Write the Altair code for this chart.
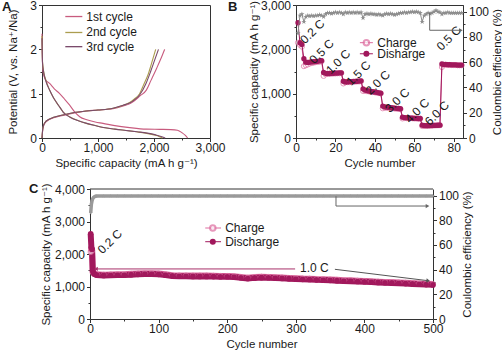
import altair as alt
import pandas as pd

FONT = "Liberation Sans, Arial, DejaVu Sans"
INK = "#1a1a1a"
LINE = "#333333"
C1, C2, C3 = "#c85b7e", "#ab9d4f", "#7a4a6b"
DIS, CHG, GRAY = "#a1185c", "#dd6c9f", "#8d8d8d"
STAR = ("M0,-1L0.2245,-0.309L0.951,-0.309L0.363,0.118L0.588,0.809L0,0.382"
        "L-0.588,0.809L-0.363,0.118L-0.951,-0.309L-0.2245,-0.309Z")

# ---------------- Panel A : voltage profiles ----------------
a1_dis_cap = [0, 5, 18, 60, 136, 220, 315, 400, 494, 583, 673, 800, 950, 1089, 1300, 1565, 1863, 2100, 2300, 2420, 2500, 2560, 2600]
a1_dis_v = [2.35, 1.9, 1.49, 1.32, 1.23, 1.11, 1.0, 0.88, 0.74, 0.59, 0.48, 0.41, 0.36, 0.33, 0.28, 0.235, 0.2, 0.195, 0.19, 0.175, 0.12, 0.06, 0.0]
a2_dis_cap = [0, 10, 30, 70, 136, 200, 255, 320, 375, 494, 650, 791, 950, 1089, 1300, 1500, 1684, 1850, 2000, 2100, 2150]
a2_dis_v = [2.3, 1.7, 1.5, 1.3, 1.08, 0.92, 0.81, 0.69, 0.59, 0.48, 0.39, 0.33, 0.28, 0.235, 0.2, 0.17, 0.14, 0.11, 0.07, 0.03, 0.0]
a3_dis_cap = [0, 10, 30, 70, 140, 205, 260, 325, 380, 500, 650, 800, 950, 1100, 1300, 1500, 1700, 1880, 2030, 2140, 2200]
a3_dis_v = [2.25, 1.68, 1.48, 1.28, 1.07, 0.91, 0.8, 0.68, 0.58, 0.47, 0.39, 0.33, 0.28, 0.235, 0.2, 0.17, 0.14, 0.11, 0.07, 0.03, 0.0]
a1_chg_cap = [0, 15, 47, 136, 375, 600, 791, 1000, 1268, 1450, 1565, 1650, 1750, 1863, 1946, 2050, 2120, 2190]
a1_chg_v = [0, 0.2, 0.33, 0.42, 0.51, 0.57, 0.61, 0.63, 0.66, 0.72, 0.77, 0.84, 0.95, 1.08, 1.3, 1.58, 1.78, 2.0]
a2_chg_cap = [0, 15, 47, 136, 375, 600, 791, 1000, 1268, 1450, 1565, 1650, 1743, 1815, 1900, 1960, 2030]
a2_chg_v = [0, 0.22, 0.34, 0.43, 0.52, 0.58, 0.61, 0.63, 0.67, 0.74, 0.8, 0.88, 1.0, 1.2, 1.45, 1.7, 2.0]
a3_chg_cap = [0, 15, 47, 136, 375, 600, 791, 1000, 1268, 1450, 1565, 1650, 1743, 1857, 1940, 2010, 2080]
a3_chg_v = [0, 0.22, 0.34, 0.43, 0.52, 0.58, 0.61, 0.63, 0.67, 0.74, 0.79, 0.86, 0.97, 1.23, 1.5, 1.75, 2.0]
a_series = ["1st cycle", "2nd cycle", "3rd cycle"]
a_leg_v = [2.74, 2.38, 2.06]

# ---------------- Panel B : rate capability ----------------
b_cycle = list(range(1, 85))
b_dis = [2600, 2150, 2110, 1790, 1710, 1705, 1710, 1715, 1720, 1725,
         1730, 1740, 1745, 1480, 1460, 1455, 1455, 1460, 1460, 1465,
         1465, 1470, 1470, 1280, 1265, 1265, 1270, 1270, 1275, 1275,
         1280, 1285, 1290, 1110, 1080, 1070, 1060, 1050, 1045, 1035,
         1030, 1020, 1010, 720, 700, 695, 690, 685, 680, 675,
         670, 665, 660, 470, 460, 455, 455, 450, 450, 445,
         445, 440, 440, 290, 280, 278, 278, 280, 282, 284,
         286, 288, 290, 1670, 1660, 1660, 1655, 1655, 1650, 1650,
         1650, 1645, 1645, 1645]
b_chg = [2150, 2100, 2060, 1620, 1640, 1660, 1680, 1690, 1700, 1710,
         1715, 1720, 1730, 1400, 1440, 1445, 1450, 1450, 1455, 1455,
         1460, 1460, 1465, 1230, 1255, 1260, 1260, 1265, 1265, 1270,
         1275, 1275, 1280, 1060, 1065, 1055, 1050, 1040, 1035, 1030,
         1020, 1015, 1005, 670, 685, 680, 680, 675, 670, 665,
         660, 655, 650, 440, 450, 448, 448, 445, 445, 440,
         440, 435, 435, 270, 275, 275, 276, 278, 280, 282,
         284, 286, 288, 1600, 1650, 1650, 1648, 1648, 1645, 1645,
         1645, 1640, 1640, 1640]
b_ce = [83, 97, 98, 92, 96, 97, 96.5, 97, 96.5, 97,
        97, 97.5, 97, 96, 98, 99, 99, 98.5, 99, 99.5,
        99, 99.5, 99, 98, 99.5, 99, 99.5, 99, 99.5, 99,
        99.5, 99, 99.5, 95, 98, 98.5, 98, 98.5, 98, 98,
        97.5, 98, 97.5, 97, 98, 98.5, 98, 98.5, 98, 97.5,
        98, 98.5, 99, 99, 99.5, 99, 99.5, 99.5, 100, 99.5,
        100, 99.5, 99, 92, 97, 98, 99, 98.5, 99, 100,
        101, 100, 99.5, 98, 99, 99, 99.5, 99, 99, 99,
        99, 99, 99, 99]
b_rate_text = ["0.2 C", "0.5 C", "1.0 C", "1.5 C", "2.0 C", "3.0 C", "4.0 C", "6.0 C", "0.5 C"]
b_rate_cycle = [8.3, 13.0, 21.4, 31.7, 41.5, 51.4, 61.5, 71.5, 77.5]
b_rate_cap = [2400, 1950, 1720, 1460, 1250, 850, 615, 560, 2250]
b_leg_names = ["Charge", "Disharge"]
b_leg_cap = [2150, 1900]

# ---------------- Panel C : long cycling ----------------
c_cycle = [1, 2, 3, 4, 5, 6, 8, 10,
           20, 30, 40, 50, 60, 70, 80, 90, 100, 110,
           120, 130, 140, 150, 160, 170, 180, 190, 200, 210,
           220, 230, 240, 250, 260, 270, 280, 290, 300, 310,
           320, 330, 340, 350, 360, 370, 380, 390, 400, 410,
           420, 430, 440, 450, 460, 470, 480, 490, 500]
c_dis = [2620, 2200, 2140, 1480, 1420, 1390, 1370, 1355,
         1340, 1345, 1350, 1355, 1365, 1375, 1385, 1385, 1375, 1350,
         1325, 1315, 1315, 1310, 1310, 1310, 1305, 1300, 1300, 1290,
         1270, 1245, 1265, 1275, 1270, 1260, 1250, 1240, 1230, 1220,
         1215, 1205, 1200, 1190, 1180, 1170, 1165, 1155, 1145, 1135,
         1125, 1115, 1110, 1100, 1090, 1080, 1070, 1060, 1050]
c_chg = [2060, 2150, 2100, 1440, 1420, 1400, 1385, 1375,
         1365, 1370, 1375, 1380, 1390, 1400, 1410, 1410, 1400, 1375,
         1350, 1340, 1340, 1335, 1335, 1335, 1330, 1325, 1325, 1315,
         1295, 1270, 1290, 1300, 1295, 1285, 1275, 1265, 1255, 1245,
         1240, 1230, 1225, 1215, 1205, 1195, 1190, 1180, 1170, 1160,
         1150, 1140, 1135, 1125, 1115, 1105, 1095, 1085, 1075]
c_ce = [86, 93, 96, 97.5, 98.5, 99, 99.5, 99.7,
        99.7, 99.8, 99.7, 99.8, 99.7, 99.8, 99.8, 99.7, 99.8, 99.7,
        99.8, 99.8, 99.7, 99.8, 99.7, 99.8, 99.8, 99.7, 99.8, 99.7,
        99.8, 99.8, 99.7, 99.8, 99.7, 99.8, 99.8, 99.7, 99.8, 99.7,
        99.8, 99.8, 99.7, 99.8, 99.7, 99.8, 99.8, 99.7, 99.8, 99.7,
        99.8, 99.8, 99.7, 99.8, 99.7, 99.8, 99.8, 99.7, 99.8]
c_leg_names = ["Charge", "Discharge"]
c_leg_cap = [2800, 2378]

# layout (pixels): C is drawn wider than its grid cell
CW_CELL = 168
C_X0, C_X1 = 48, 391


def mk_axis(values, major, fmt, **kw):
    return alt.Axis(values=values, tickCount=100,
                    labelExpr=f"({major}) ? format(datum.value, '{fmt}') : ''",
                    tickSize={"condition": {"test": major, "value": 3.5}, "value": 2},
                    labelOverlap=False, labelFlush=False, grid=False, **kw)


def letter(t, px, py):
    return alt.Chart(pd.DataFrame({"t": [t]})).mark_text(
        font=FONT, fontSize=13, fontWeight="bold", align="left", baseline="middle", color=INK
    ).encode(text="t:N", x=alt.value(px), y=alt.value(py))


# ======== A ========
rows = []
for ser, kind, caps, vs in [
    ("1st cycle", "d", a1_dis_cap, a1_dis_v), ("2nd cycle", "d", a2_dis_cap, a2_dis_v),
    ("3rd cycle", "d", a3_dis_cap, a3_dis_v), ("1st cycle", "c", a1_chg_cap, a1_chg_v),
    ("2nd cycle", "c", a2_chg_cap, a2_chg_v), ("3rd cycle", "c", a3_chg_cap, a3_chg_v)]:
    for i, (c, v) in enumerate(zip(caps, vs)):
        rows.append({"series": ser, "curve": ser + kind, "cap": c, "v": v, "i": i})
a_df = pd.DataFrame(rows)

axA_x = mk_axis([0, 500, 1000, 1500, 2000, 2500, 3000], "datum.value % 1000 == 0", ",", titlePadding=4, labelPadding=1)
axA_y = mk_axis([0, 0.5, 1, 1.5, 2, 2.5, 3], "datum.value % 1 == 0", "d", titlePadding=11)
TA_X = "Specific capacity (mA h g\u207b\u00b9)"
TA_Y = "Potential (V, vs. Na\u207a/Na)"


def xA(f):
    return alt.X(f"{f}:Q", scale=alt.Scale(domain=[0, 3000], nice=False), axis=axA_x, title=TA_X)


def yA(f):
    return alt.Y(f"{f}:Q", scale=alt.Scale(domain=[0, 3], nice=False), axis=axA_y, title=TA_Y)


colA = alt.Color("series:N", scale=alt.Scale(domain=a_series, range=[C1, C2, C3]), legend=None)
a_lines = alt.Chart(a_df).mark_line(strokeWidth=1.1, interpolate="monotone").encode(
    x=xA("cap"), y=yA("v"), color=colA, detail="curve:N", order="i:Q")
a_leg = pd.DataFrame({"series": a_series, "x0": [416, 416, 416], "x1": [720, 720, 720],
                      "xt": [790, 790, 790], "v": a_leg_v})
a_leg_rule = alt.Chart(a_leg).mark_rule(strokeWidth=1.3).encode(
    x=xA("x0"), x2="x1:Q", y=yA("v"), color=colA)
a_leg_text = alt.Chart(a_leg).mark_text(font=FONT, fontSize=12, align="left", baseline="middle", color=INK).encode(
    x=xA("xt"), y=yA("v"), text="series:N")
A = alt.layer(a_lines, a_leg_rule, a_leg_text, letter("A", -40, 2)).properties(width=168, height=133)

# ======== B ========
b_df = pd.DataFrame({"cycle": b_cycle, "dis": b_dis, "chg": b_chg, "ce": b_ce})
axB_x = mk_axis(list(range(0, 90, 10)), "datum.value % 20 == 0", "d", titlePadding=4, labelPadding=1)
axB_y = mk_axis(list(range(0, 3500, 500)), "datum.value % 1000 == 0", ",", titlePadding=1)
axB_r = mk_axis(list(range(0, 110, 10)), "datum.value % 20 == 0", "d", orient="right",
                titleAngle=270, titleBaseline="top", titlePadding=3)
TB_Y = "Specific capacity (mA h g\u207b\u00b9)"
TB_R = "Coulombic efficiency (%)"


def xB(f):
    return alt.X(f"{f}:Q", scale=alt.Scale(domain=[0, 84.7], nice=False), axis=axB_x, title="Cycle number")


def yB(f):
    return alt.Y(f"{f}:Q", scale=alt.Scale(domain=[0, 3000], nice=False), axis=axB_y, title=TB_Y)


def yBr(f):
    return alt.Y(f"{f}:Q", scale=alt.Scale(domain=[0, 105.3], nice=False), axis=axB_r, title=TB_R)


baseB = alt.Chart(b_df)
b_chg_line = baseB.mark_line(color=CHG, strokeWidth=1).encode(x=xB("cycle"), y=yB("chg"))
b_chg_pts = baseB.mark_point(shape="circle", size=26, filled=True, fill="white", stroke=CHG, strokeWidth=1).encode(
    x=xB("cycle"), y=yB("chg"))
b_dis_line = baseB.mark_line(color=DIS, strokeWidth=1).encode(x=xB("cycle"), y=yB("dis"))
b_dis_pts = baseB.mark_circle(size=28, color=DIS, opacity=1).encode(x=xB("cycle"), y=yB("dis"))
b_rates = alt.Chart(pd.DataFrame({"t": b_rate_text, "cycle": b_rate_cycle, "cap": b_rate_cap})).mark_text(
    font=FONT, fontSize=12, angle=315, align="center", baseline="middle", color=INK).encode(
    x=xB("cycle"), y=yB("cap"), text="t:N")
b_leg = pd.DataFrame({"name": b_leg_names, "cap": b_leg_cap, "x0": [32.4, 32.4], "x1": [39.0, 39.0],
                      "xm": [35.7, 35.7], "xt": [41.2, 41.2]})
b_leg_r1 = alt.Chart(b_leg.iloc[[0]]).mark_rule(color=CHG, strokeWidth=1).encode(x=xB("x0"), x2="x1:Q", y=yB("cap"))
b_leg_r2 = alt.Chart(b_leg.iloc[[1]]).mark_rule(color=DIS, strokeWidth=1).encode(x=xB("x0"), x2="x1:Q", y=yB("cap"))
b_leg_p1 = alt.Chart(b_leg.iloc[[0]]).mark_point(shape="circle", size=30, filled=True, fill="white", stroke=CHG).encode(
    x=xB("xm"), y=yB("cap"))
b_leg_p2 = alt.Chart(b_leg.iloc[[1]]).mark_circle(size=36, color=DIS, opacity=1).encode(x=xB("xm"), y=yB("cap"))
b_leg_t = alt.Chart(b_leg).mark_text(font=FONT, fontSize=12, align="left", baseline="middle", color=INK).encode(
    x=xB("xt"), y=yB("cap"), text="name:N")
capB = alt.layer(b_chg_line, b_chg_pts, b_dis_line, b_dis_pts, b_rates,
                 b_leg_r1, b_leg_r2, b_leg_p1, b_leg_p2, b_leg_t, letter("B", -68, 2))

b_ce_line = baseB.mark_line(color=GRAY, strokeWidth=1).encode(x=xB("cycle"), y=yBr("ce"))
b_ce_pts = baseB.mark_point(shape=STAR, size=30, filled=True, color=GRAY, opacity=1).encode(x=xB("cycle"), y=yBr("ce"))
b_arrow = pd.DataFrame({"x0": [67.8, 67.8], "x1": [67.8, 83.6], "y0": [99.0, 85.3], "y1": [85.3, 85.3]})
b_arr_r = alt.Chart(b_arrow).mark_rule(color="#666666", strokeWidth=1).encode(
    x=xB("x0"), x2="x1:Q", y=yBr("y0"), y2="y1:Q")
b_arr_h = alt.Chart(b_arrow.iloc[[1]]).mark_point(shape="triangle-right", size=18, filled=True, color="#666666", opacity=1).encode(
    x=xB("x1"), y=yBr("y1"))
ceB = alt.layer(b_ce_line, b_ce_pts, b_arr_r, b_arr_h)
B = alt.layer(capB, ceB).resolve_scale(y="independent").properties(width=167, height=133)

# ======== C ========
c_df = pd.DataFrame({"cycle": c_cycle, "dis": c_dis, "chg": c_chg, "ce": c_ce})
axC_x = mk_axis(list(range(0, 550, 50)), "datum.value % 100 == 0", "d", titlePadding=4, labelPadding=1)
axC_y = mk_axis(list(range(0, 4500, 500)), "datum.value % 1000 == 0", ",", titlePadding=3, offset=-C_X0)
axC_r = mk_axis(list(range(0, 110, 10)), "datum.value % 20 == 0", "d", orient="right",
                titleAngle=270, titleBaseline="top", titlePadding=3, offset=C_X1 - CW_CELL)


def xC(f):
    return alt.X(f"{f}:Q", scale=alt.Scale(domain=[0, 500], range=[C_X0, C_X1], nice=False), axis=axC_x, title="Cycle number")


def yC(f):
    return alt.Y(f"{f}:Q", scale=alt.Scale(domain=[0, 4000], nice=False), axis=axC_y, title=TB_Y)


def yCr(f):
    return alt.Y(f"{f}:Q", scale=alt.Scale(domain=[0, 105.4], nice=False), axis=axC_r, title=TB_R)


baseC = alt.Chart(c_df)
c_chg_line = baseC.mark_line(color=CHG, strokeWidth=6).encode(x=xC("cycle"), y=yC("chg"))
c_chg_pts = baseC.mark_point(shape="circle", size=26, filled=True, fill="white", stroke=CHG, strokeWidth=1).encode(
    x=xC("cycle"), y=yC("chg"))
c_dis_line = baseC.mark_line(color=DIS, strokeWidth=6).encode(x=xC("cycle"), y=yC("dis"))
c_dis_pts = baseC.mark_circle(size=32, color=DIS, opacity=1).encode(x=xC("cycle"), y=yC("dis"))
c_ann = alt.Chart(pd.DataFrame({"t": ["0.2 C", "1.0 C"], "cycle": [29, 327], "cap": [2380, 1560], "ang": [315, 0]})).mark_text(
    font=FONT, fontSize=12, align="center", baseline="middle", color=INK).encode(
    x=xC("cycle"), y=yC("cap"), text="t:N", angle=alt.Angle("ang:Q", scale=None))
c_lines = pd.DataFrame({"x0": [8.7, 357], "x1": [299, 493], "y0": [1540, 1529], "y1": [1540, 1178], "col": ["#a8306a", "#555555"]})
c_line_r = alt.Chart(c_lines).mark_rule(strokeWidth=1).encode(
    x=xC("x0"), x2="x1:Q", y=yC("y0"), y2="y1:Q", color=alt.Color("col:N", scale=None))
c_head = pd.DataFrame({"x": [8.7, 493], "y": [1540, 1178], "shape": ["triangle-left", "triangle-right"],
                       "ang": [0, 8], "col": ["#a8306a", "#555555"]})
c_head_p = alt.Chart(c_head).mark_point(size=18, filled=True, opacity=1).encode(
    x=xC("x"), y=yC("y"), shape=alt.Shape("shape:N", scale=None), angle=alt.Angle("ang:Q", scale=None),
    color=alt.Color("col:N", scale=None))
c_leg = pd.DataFrame({"name": c_leg_names, "cap": c_leg_cap, "x0": [168, 168], "x1": [191, 191],
                      "xm": [179, 179], "xt": [197, 197]})
c_leg_r1 = alt.Chart(c_leg.iloc[[0]]).mark_rule(color=CHG, strokeWidth=1).encode(x=xC("x0"), x2="x1:Q", y=yC("cap"))
c_leg_r2 = alt.Chart(c_leg.iloc[[1]]).mark_rule(color=DIS, strokeWidth=1).encode(x=xC("x0"), x2="x1:Q", y=yC("cap"))
c_leg_p1 = alt.Chart(c_leg.iloc[[0]]).mark_point(shape="circle", size=30, filled=True, fill="white", stroke=CHG).encode(
    x=xC("xm"), y=yC("cap"))
c_leg_p2 = alt.Chart(c_leg.iloc[[1]]).mark_circle(size=36, color=DIS, opacity=1).encode(x=xC("xm"), y=yC("cap"))
c_leg_t = alt.Chart(c_leg).mark_text(font=FONT, fontSize=12, align="left", baseline="middle", color=INK).encode(
    x=xC("xt"), y=yC("cap"), text="name:N")
c_top = alt.Chart(pd.DataFrame({"k": [0]})).mark_rule(color=LINE, strokeWidth=1).encode(
    x=alt.datum(0), x2=alt.datum(500), y=alt.value(0))
capC = alt.layer(c_chg_line, c_dis_line, c_chg_pts, c_dis_pts, c_ann, c_line_r, c_head_p,
                 c_leg_r1, c_leg_r2, c_leg_p1, c_leg_p2, c_leg_t, c_top, letter("C", -13, 0))

c_ce_line = baseC.mark_line(color="#9a9a9a", strokeWidth=3.5).encode(x=xC("cycle"), y=yCr("ce"))
c_ce_pts = baseC.mark_point(shape=STAR, size=16, filled=True, color="#9a9a9a", opacity=1).encode(x=xC("cycle"), y=yCr("ce"))
c_arrow = pd.DataFrame({"x0": [358.6, 358.6], "x1": [358.6, 492], "y0": [99.5, 91.6], "y1": [91.6, 91.6]})
c_arr_r = alt.Chart(c_arrow).mark_rule(color="#666666", strokeWidth=1).encode(
    x=xC("x0"), x2="x1:Q", y=yCr("y0"), y2="y1:Q")
c_arr_h = alt.Chart(c_arrow.iloc[[1]]).mark_point(shape="triangle-right", size=18, filled=True, color="#666666", opacity=1).encode(
    x=xC("x1"), y=yCr("y1"))
ceC = alt.layer(c_ce_line, c_ce_pts, c_arr_r, c_arr_h)
C = alt.layer(capC, ceC).resolve_scale(y="independent").properties(
    width=CW_CELL, height=130, view=alt.ViewBackground(stroke="transparent"))

chart = alt.concat(A, B, C, columns=2, spacing={"row": 51, "column": 86}, bounds="flush").properties(
    autosize=alt.AutoSizeParams(type="none"),
    padding={"left": 42, "top": 5, "right": 460, "bottom": 346},
    background="white",
).configure_axis(
    labelFont=FONT, titleFont=FONT, labelFontSize=12, titleFontSize=11.5, titleFontWeight="normal",
    labelColor=INK, titleColor=INK, domainColor=LINE, tickColor=LINE, domainWidth=1, tickWidth=1, labelPadding=2,
).configure_view(stroke=LINE, strokeWidth=1)

chart.save("out.html", embed_options={"renderer": "svg", "actions": False})
